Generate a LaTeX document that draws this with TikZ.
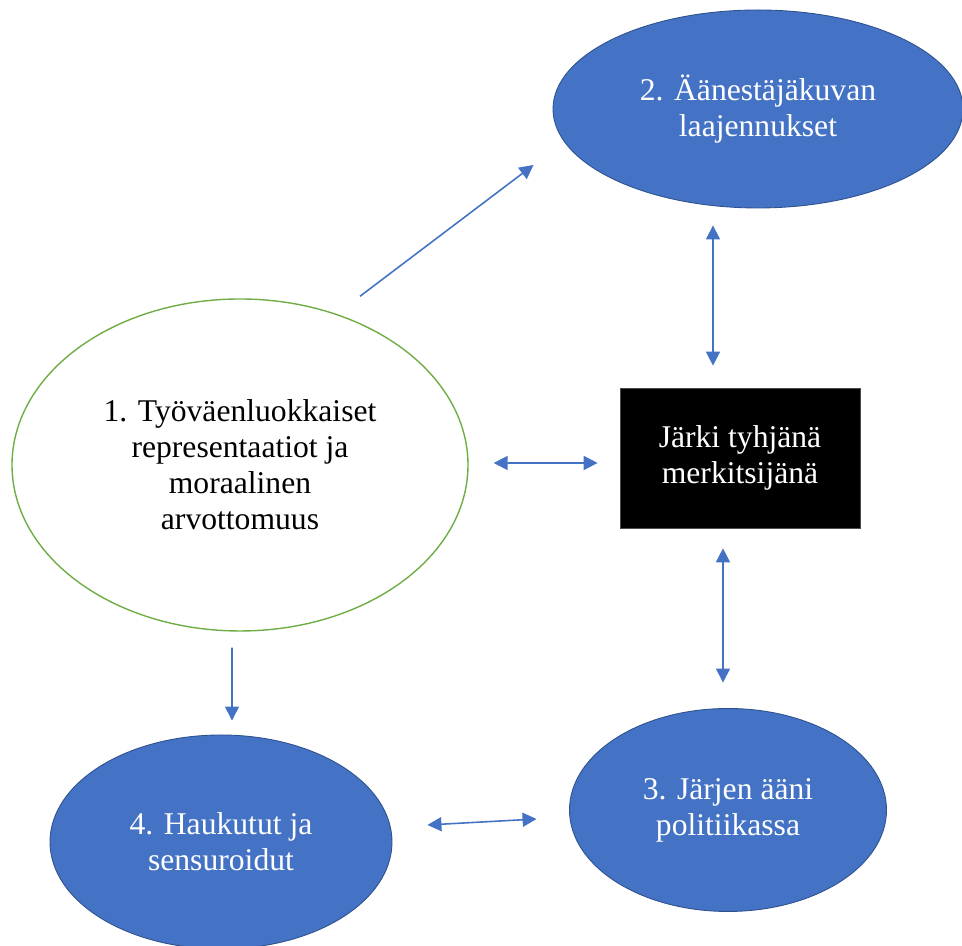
\documentclass[tikz,border=0pt]{standalone}
\usepackage{xcolor}
\usepackage{fontspec}
\setmainfont{Liberation Serif}
\usepackage{tikz}
\usetikzlibrary{shapes.geometric,arrows.meta}

\definecolor{wordblue}{HTML}{4472C4}
\definecolor{wordedge}{HTML}{2F528F}
\definecolor{wordgreen}{HTML}{70AD47}

\begin{document}
\begin{tikzpicture}[
  txt/.style={align=center, font=\fontsize{18}{20.5}\selectfont},
  blob/.style={txt, ellipse, inner sep=0pt, fill=wordblue, draw=wordedge, line width=0.5pt, text=white},
  link/.style={draw=wordblue, line width=0.9pt, -{Triangle[length=2.8mm, width=2.8mm]}},
  both/.style={link, {Triangle[length=2.8mm, width=2.8mm]}-{Triangle[length=2.8mm, width=2.8mm]}}
]
\useasboundingbox (0,0) rectangle (19.24,18.92);

\node[txt, ellipse, inner sep=0pt, draw=wordgreen, line width=0.8pt, minimum width=9.12cm, minimum height=6.64cm] (tyovaen) at (4.8,9.62)
  {1. Työväenluokkaiset\\representaatiot ja\\moraalinen\\arvottomuus};
\node[blob, minimum width=8.2cm, minimum height=3.96cm] (aanestaja) at (15.16,16.74)
  {2. Äänestäjäkuvan\\laajennukset};
\node[txt, rectangle, fill=black, draw=black!70, text=white, minimum width=4.8cm, minimum height=2.8cm] (jarki) at (14.8,9.76)
  {Järki tyhjänä\\merkitsijänä};
\node[blob, minimum width=6.34cm, minimum height=4.06cm] (aani) at (14.56,2.72)
  {3. Järjen ääni\\politiikassa};
\node[blob, minimum width=6.84cm, minimum height=4.28cm] (haukutut) at (4.42,2.08)
  {4. Haukutut ja\\sensuroidut};

\draw[link] ([shift={(2.4,0.04)}]tyovaen.north) -- ([shift={(-0.38,-1.12)}]aanestaja.west);
\draw[both] ([shift={(-0.9,-0.34)}]aanestaja.south) -- ([shift={(-0.54,0.44)}]jarki.north);
\draw[both] ([shift={(0.5,0.04)}]tyovaen.east) -- ([shift={(-0.44,-0.1)}]jarki.west);
\draw[both] ([shift={(-0.34,-0.4)}]jarki.south) -- ([shift={(-0.1,0.51)}]aani.north);
\draw[link] ([shift={(-0.16,-0.32)}]tyovaen.south) -- ([shift={(0.22,0.28)}]haukutut.north);
\draw[both] ([shift={(0.7,0.34)}]haukutut.east) -- ([shift={(-0.65,-0.18)}]aani.west);

\end{tikzpicture}
\end{document}
